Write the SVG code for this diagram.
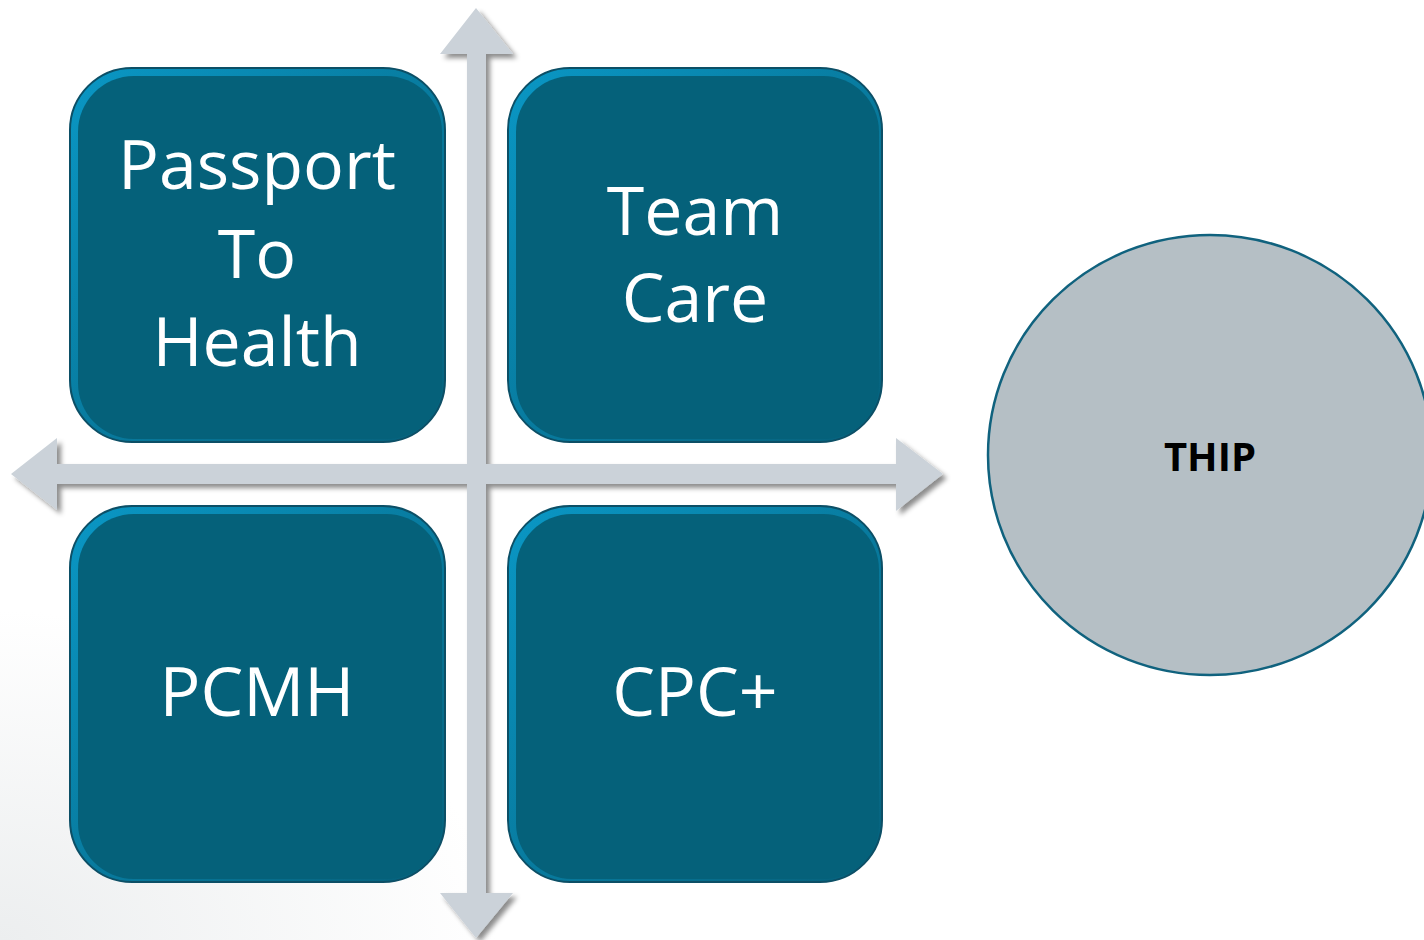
<svg xmlns="http://www.w3.org/2000/svg" width="1424" height="940" viewBox="0 0 1424 940">
<defs>
<linearGradient id="band" x1="0" y1="0" x2="1" y2="1">
<stop offset="0" stop-color="#0a97c5"/>
<stop offset="1" stop-color="#06607a"/>
</linearGradient>
<radialGradient id="bg" cx="0" cy="1" r="0.35">
<stop offset="0" stop-color="#eceeef"/>
<stop offset="1" stop-color="#ffffff"/>
</radialGradient>
<filter id="shadow" x="-10%" y="-10%" width="120%" height="120%">
<feDropShadow dx="4" dy="4" stdDeviation="2.5" flood-color="#000" flood-opacity="0.45"/>
</filter>
<style>
.outer{fill:url(#band);stroke:#0c4f66;stroke-width:2}
.inner{fill:#05617a}
.lbl{font-family:"Open Sans","DejaVu Sans",sans-serif;font-size:68px;fill:#ffffff;text-anchor:middle}
.thip{font-family:"Open Sans","Liberation Sans",sans-serif;font-size:40px;font-weight:bold;fill:#000;text-anchor:middle}
</style>
</defs>
<rect width="1424" height="940" fill="url(#bg)"/>
<g id="connectors">
<path filter="url(#shadow)" fill="#cbd2d9" d="M476,8 L513,54 L486,54 L486,464 L896,464 L896,438 L943,474 L896,511 L896,484 L486,484 L486,893 L513,893 L476,938 L440,893 L467,893 L467,484 L57,484 L57,510 L11,474 L57,438 L57,464 L467,464 L467,54 L440,54 Z"/>
</g>
<g id="passport">
<rect class="outer" x="70" y="68" width="375" height="374" rx="62"/>
<rect class="inner" x="78" y="76" width="364" height="363" rx="56"/>
<text class="lbl" x="257" y="189">Passport</text>
<text class="lbl" x="257" y="278">To</text>
<text class="lbl" x="257" y="366">Health</text>
</g>
<g id="teamcare">
<rect class="outer" x="508" y="68" width="374" height="374" rx="62"/>
<rect class="inner" x="516" y="76" width="363" height="363" rx="56"/>
<text class="lbl" x="695" y="235">Team</text>
<text class="lbl" x="695" y="322">Care</text>
</g>
<g id="pcmh">
<rect class="outer" x="70" y="506" width="375" height="376" rx="62"/>
<rect class="inner" x="78" y="514" width="364" height="365" rx="56"/>
<text class="lbl" x="257" y="716">PCMH</text>
</g>
<g id="cpc">
<rect class="outer" x="508" y="506" width="374" height="376" rx="62"/>
<rect class="inner" x="516" y="514" width="363" height="365" rx="56"/>
<text class="lbl" x="695" y="716">CPC+</text>
</g>
<g id="thip">
<ellipse cx="1210" cy="455" rx="222" ry="220" fill="#b5bfc5" stroke="#10627e" stroke-width="2.5"/>
<text class="thip" x="1210" y="471">THIP</text>
</g>
</svg>
